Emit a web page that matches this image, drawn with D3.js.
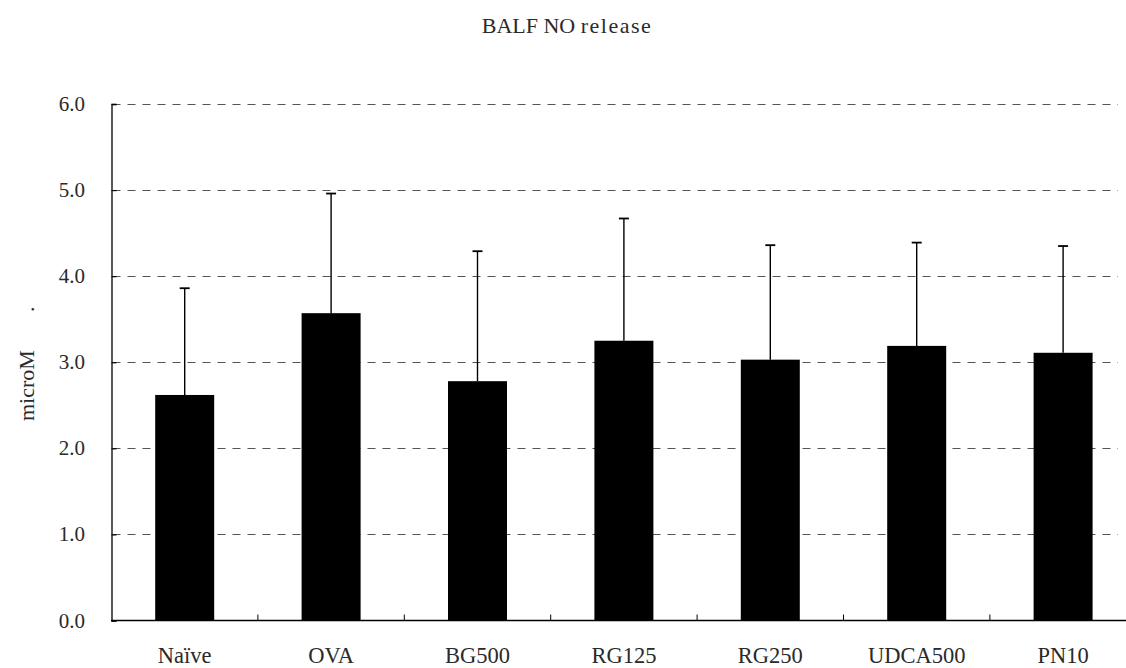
<!DOCTYPE html>
<html>
<head>
<meta charset="utf-8">
<script src="https://cdn.jsdelivr.net/npm/d3@7/dist/d3.min.js"></script>
<style>
  html, body { margin: 0; padding: 0; background: #fff; }
  svg { display: block; }
  text { font-family: "Liberation Serif", "DejaVu Serif", serif; fill: #2a2a2a; }
</style>
</head>
<body>
<svg id="chart" width="1126" height="668"></svg>
<script>
// BALF NO release by treatment group (mean with upper SD bar)
const groups = ["Naïve", "OVA", "BG500", "RG125", "RG250", "UDCA500", "PN10"];
const means = [2.62, 3.57, 2.78, 3.25, 3.03, 3.19, 3.11];
const upper = [3.86, 4.96, 4.29, 4.67, 4.36, 4.39, 4.35];
const yTicks = [0, 1, 2, 3, 4, 5, 6];
const titleMain = "BALF NO ";
const titleTail = "release";
const yLabel = "microM";
const yLabelTail = ".";

const svg = d3.select("#chart");
const W = 1126;
const plotLeft = 111.5, plotTop = 104, plotBottom = 620.5;
const bandStep = 146.4;
const gridRight = 1118;

const x = d3.scaleBand().domain(groups).range([plotLeft, plotLeft + bandStep * groups.length]).padding(0);
const y = d3.scaleLinear().domain([0, 6]).range([plotBottom, plotTop]);
const barW = x.bandwidth() * 0.403;

// dashed horizontal gridlines
svg.append("g").selectAll("line").data(yTicks.filter(d => d > 0)).join("line")
  .attr("x1", plotLeft + 1).attr("x2", gridRight)
  .attr("y1", d => Math.round(y(d)) + 0.5).attr("y2", d => Math.round(y(d)) + 0.5)
  .attr("stroke", "#555").attr("stroke-width", 1.2)
  .attr("stroke-dasharray", "8,7");

// bars
svg.append("g").selectAll("rect").data(groups).join("rect")
  .attr("x", (d) => x(d) + (x.bandwidth() - barW) / 2)
  .attr("width", barW)
  .attr("y", (d, i) => y(means[i]))
  .attr("height", (d, i) => y(0) - y(means[i]))
  .attr("fill", "#000");

// error bars
const eb = svg.append("g").attr("stroke", "#000").attr("stroke-width", 1.4);
groups.forEach((g, i) => {
  const cx = x(g) + x.bandwidth() / 2;
  eb.append("line").attr("x1", cx).attr("x2", cx).attr("y1", y(means[i])).attr("y2", y(upper[i]));
  eb.append("line").attr("x1", cx - 5).attr("x2", cx + 5).attr("y1", y(upper[i])).attr("y2", y(upper[i])).attr("stroke-width", 1.8);
});

// y axis
const yAxis = d3.axisRight(y).tickValues(yTicks).tickSize(5).tickFormat("");
const gy = svg.append("g").attr("transform", `translate(${plotLeft},0)`).call(yAxis);
gy.select(".domain").attr("stroke", "#000").attr("stroke-width", 1.3);
gy.selectAll(".tick line").attr("stroke", "#000").attr("stroke-width", 1.2);

svg.append("g").selectAll("text").data(yTicks).join("text")
  .attr("x", 85).attr("y", d => y(d) + 7)
  .attr("text-anchor", "end")
  .attr("font-size", 21)
  .text(d3.format(".1f"));

// x axis with inward ticks at band boundaries
const gx = svg.append("g").attr("transform", `translate(0,${plotBottom})`);
gx.append("line").attr("x1", plotLeft - 0.5).attr("x2", W).attr("y1", 0).attr("y2", 0)
  .attr("stroke", "#000").attr("stroke-width", 1.3);
gx.selectAll("line.tk").data(groups.slice(1)).join("line").attr("class", "tk")
  .attr("x1", d => x(d)).attr("x2", d => x(d)).attr("y1", 0).attr("y2", -6)
  .attr("stroke", "#000").attr("stroke-width", 1);
gx.selectAll("text").data(groups).join("text")
  .attr("x", d => x(d) + x.bandwidth() / 2)
  .attr("y", 42.5)
  .attr("text-anchor", "middle")
  .attr("font-size", 22.5)
  .text(d => d);

// title
const t = svg.append("text").attr("x", 567).attr("y", 32.5).attr("text-anchor", "middle").attr("font-size", 22);
t.append("tspan").text(titleMain);
t.append("tspan").attr("letter-spacing", 1.5).text(titleTail);

// y axis label
const yl = svg.append("text")
  .attr("transform", `translate(33.5,421) rotate(-90)`)
  .attr("text-anchor", "start")
  .attr("font-size", 22);
yl.append("tspan").text(yLabel);
yl.append("tspan").attr("dx", 38).text(yLabelTail);
</script>
</body>
</html>
